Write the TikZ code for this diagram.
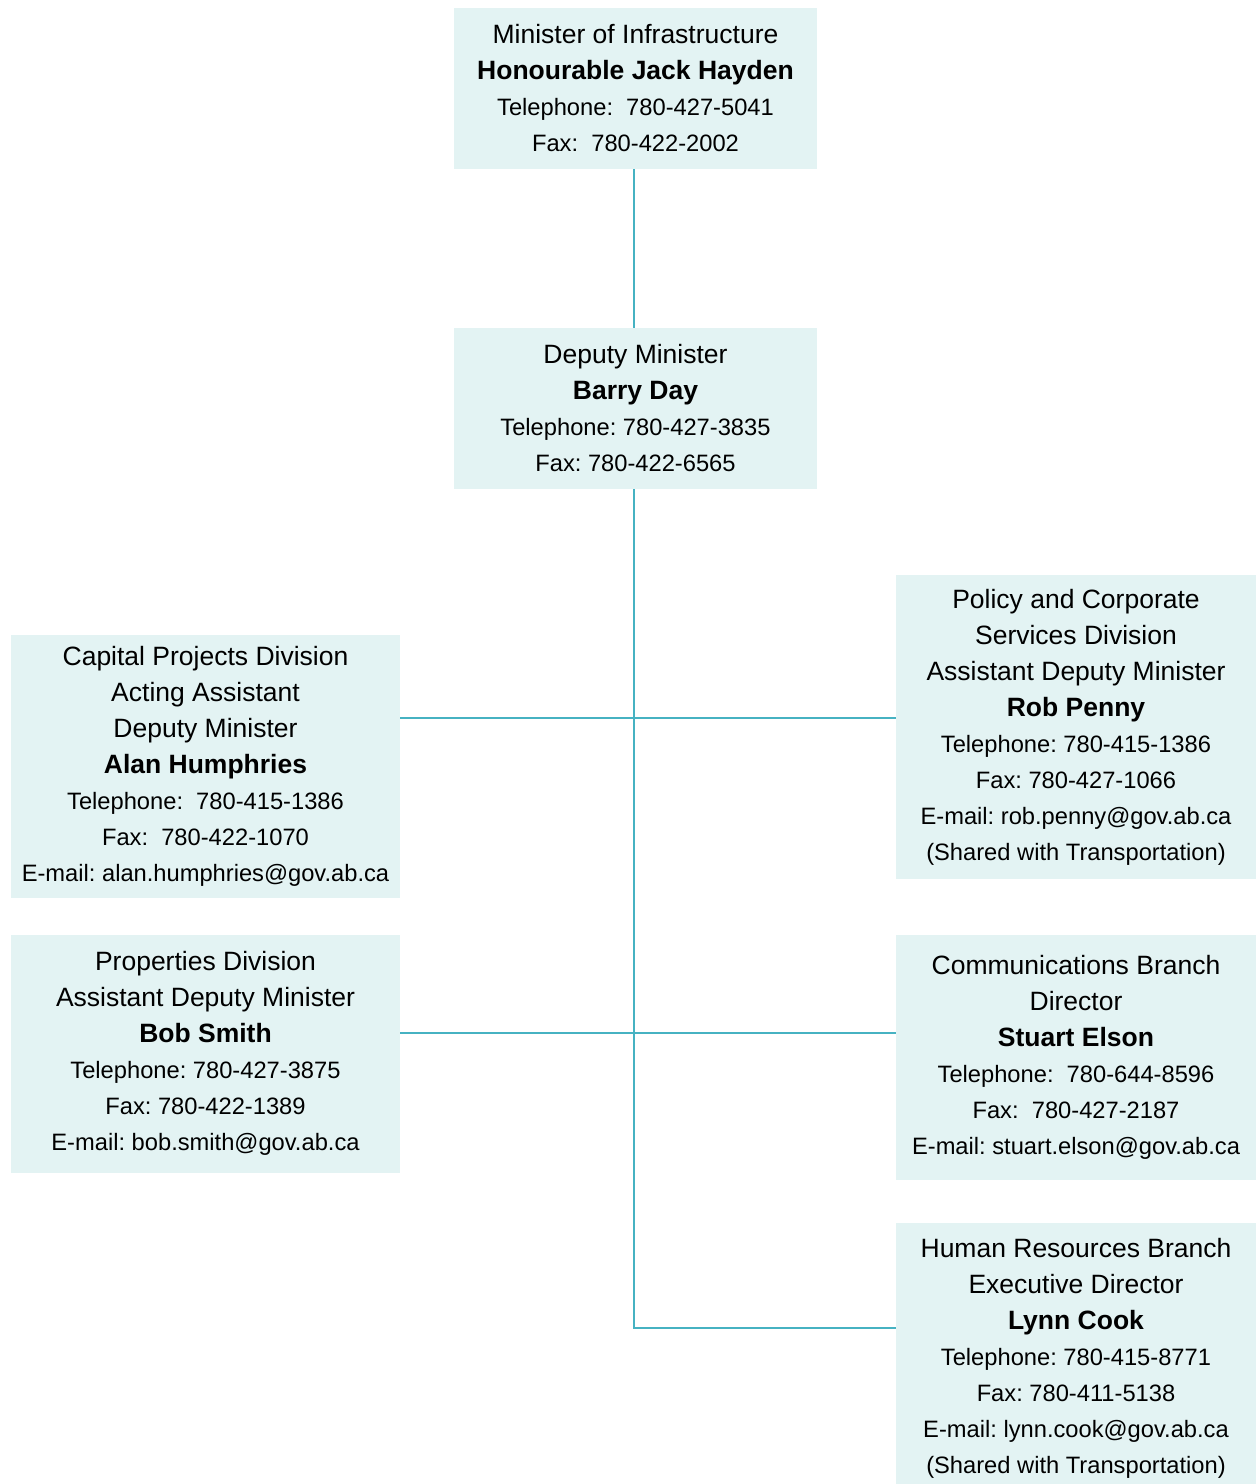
\documentclass[tikz,border=0pt]{standalone}
\usepackage{fontspec}
\setmainfont{Liberation Sans}
\usepackage{tikz}
\usepackage{xcolor}
\definecolor{boxfill}{HTML}{E3F3F3}
\definecolor{orgline}{HTML}{46B2C2}
\frenchspacing
\newcommand{\dtl}[1]{{\fontsize{11.85}{18}\selectfont #1}}

\begin{document}
\begin{tikzpicture}[x = 0.5pt, y = -0.5pt,
  orgbox/.style = {fill = boxfill, inner sep = 0pt, align = center,
    font = \fontsize{13.25}{18}\selectfont},
  orglink/.style = {draw = orgline, line width = 0.75pt}]
\useasboundingbox (0,0) rectangle (1256,1484);
% top
\node[orgbox, minimum width = 181.5pt, minimum height = 80.5pt] (min) at (635.5,88.5)
  {Minister of Infrastructure\\ \textbf{Honourable Jack Hayden}\\ \dtl{Telephone:~ 780-427-5041}\\ \dtl{Fax:~ 780-422-2002}};
\node[orgbox, minimum width = 181.5pt, minimum height = 80.5pt] (dep) at (635.5,408.5)
  {Deputy Minister\\ \textbf{Barry Day}\\ \dtl{Telephone: 780-427-3835}\\ \dtl{Fax: 780-422-6565}};
% left
\node[orgbox, minimum width = 194.5pt, minimum height = 131.5pt] (cap) at (205.5,766)
  {Capital Projects Division\\ Acting Assistant\\ Deputy Minister\\ \textbf{Alan Humphries}\\ \dtl{Telephone:~ 780-415-1386}\\ \dtl{Fax:~ 780-422-1070}\\ \dtl{E-mail: alan.humphries@gov.ab.ca}};
\node[orgbox, minimum width = 194.5pt, minimum height = 119pt] (prop) at (205.5,1053.5)
  {Properties Division\\ Assistant Deputy Minister\\ \textbf{Bob Smith}\\ \dtl{Telephone: 780-427-3875}\\ \dtl{Fax: 780-422-1389}\\ \dtl{E-mail: bob.smith@gov.ab.ca}};
% right
\node[orgbox, minimum width = 180pt, minimum height = 152pt] (pol) at (1076,727)
  {Policy and Corporate\\ Services Division\\ Assistant Deputy Minister\\ \textbf{Rob Penny}\\ \dtl{Telephone: 780-415-1386}\\ \dtl{Fax: 780-427-1066}\\ \dtl{E-mail: rob.penny@gov.ab.ca}\\ \dtl{(Shared with Transportation)}};
\node[orgbox, minimum width = 180pt, minimum height = 122.5pt] (com) at (1076,1057.5)
  {Communications Branch\\ Director\\ \textbf{Stuart Elson}\\ \dtl{Telephone:~ 780-644-8596}\\ \dtl{Fax:~ 780-427-2187}\\ \dtl{E-mail: stuart.elson@gov.ab.ca}};
\node[orgbox, minimum width = 180pt, minimum height = 135pt] (hr) at (1076,1358)
  {Human Resources Branch\\ Executive Director\\ \textbf{Lynn Cook}\\ \dtl{Telephone: 780-415-8771}\\ \dtl{Fax: 780-411-5138}\\ \dtl{E-mail: lynn.cook@gov.ab.ca}\\ \dtl{(Shared with Transportation)}};
% connectors
\coordinate (j1) at (634,718);
\coordinate (j2) at (634,1033);
\coordinate (j3) at (634,1328);
\draw[orglink] (min.south -| j1) -- (dep.north -| j1);
\draw[orglink] (dep.south -| j1) -- (j3) -- (hr.west |- j3);
\draw[orglink] (cap.east |- j1) -- (pol.west |- j1);
\draw[orglink] (prop.east |- j2) -- (com.west |- j2);
\end{tikzpicture}
\end{document}
